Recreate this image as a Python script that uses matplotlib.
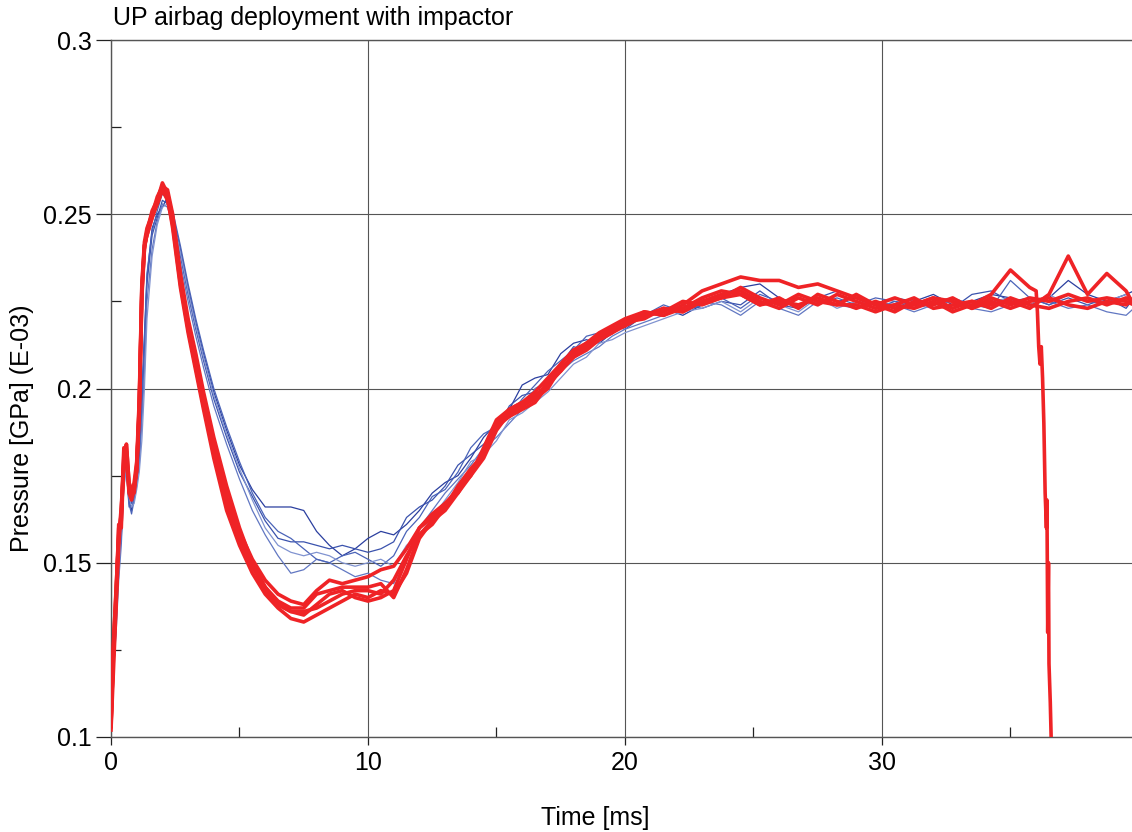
import numpy as np
import matplotlib

matplotlib.use("Agg")
import matplotlib.pyplot as plt
from matplotlib.ticker import FixedLocator

plt.rcParams["font.family"] = ["Liberation Sans", "DejaVu Sans"]

# shared time grid [ms]
T_EARLY = [0.0, 0.1, 0.2, 0.3, 0.4, 0.5, 0.6, 0.7, 0.8, 0.9, 1.0, 1.1, 1.2, 1.3,
           1.4, 1.6, 1.8, 2.0, 2.2, 2.4, 2.7, 3.0, 3.3, 3.6, 4.0, 4.5]
T_MID = [5.0, 5.5, 6.0, 6.5, 7.0, 7.5, 8.0, 8.5, 9.0, 9.5, 10.0, 10.5, 11.0, 11.5,
         12.0, 12.5, 13.0, 13.5, 14.0, 14.5, 15.0, 15.5, 16.0, 16.5, 17.0, 17.5,
         18.0, 18.5, 19.0, 19.5, 20.0]
T_LATE = [20.75, 21.5, 22.25, 23.0, 23.75, 24.5, 25.25, 26.0, 26.75, 27.5, 28.25,
          29.0, 29.75, 30.5, 31.25, 32.0, 32.75, 33.5, 34.25, 35.0, 35.75, 36.5,
          37.25, 38.0, 38.75, 39.5, 39.8]
TIME = T_EARLY + T_MID + T_LATE

# pressure [GPa] (E-03), reference runs (thin blue)
BLUE_1 = ([0.104, 0.118, 0.133, 0.150, 0.158, 0.176, 0.178, 0.168, 0.165, 0.169, 0.173, 0.182, 0.198,
           0.215, 0.232, 0.246, 0.250, 0.252, 0.255, 0.250, 0.240, 0.229, 0.219, 0.210, 0.199, 0.188]
          + [0.178, 0.171, 0.166, 0.166, 0.166, 0.165, 0.159, 0.155, 0.152, 0.154, 0.157, 0.159, 0.158,
             0.161, 0.165, 0.170, 0.173, 0.175, 0.180, 0.186, 0.190, 0.194, 0.201, 0.203, 0.204, 0.210,
             0.213, 0.214, 0.213, 0.216, 0.219]
          + [0.220, 0.223, 0.221, 0.224, 0.227, 0.229, 0.230, 0.226, 0.224, 0.227, 0.225, 0.226, 0.224,
             0.226, 0.225, 0.227, 0.224, 0.225, 0.227, 0.226, 0.224, 0.226, 0.231, 0.227, 0.225, 0.227, 0.228])
BLUE_2 = ([0.103, 0.122, 0.136, 0.148, 0.161, 0.175, 0.180, 0.170, 0.167, 0.170, 0.175, 0.180, 0.195,
           0.212, 0.230, 0.244, 0.249, 0.254, 0.253, 0.248, 0.238, 0.227, 0.217, 0.208, 0.197, 0.186]
          + [0.176, 0.169, 0.162, 0.157, 0.156, 0.156, 0.155, 0.154, 0.155, 0.154, 0.153, 0.154, 0.156,
             0.163, 0.166, 0.168, 0.172, 0.178, 0.181, 0.184, 0.188, 0.195, 0.198, 0.199, 0.203, 0.207,
             0.212, 0.211, 0.214, 0.218, 0.217]
          + [0.221, 0.222, 0.224, 0.223, 0.225, 0.224, 0.228, 0.224, 0.223, 0.226, 0.228, 0.226, 0.223,
             0.225, 0.224, 0.226, 0.223, 0.227, 0.228, 0.225, 0.226, 0.224, 0.226, 0.224, 0.226, 0.223, 0.226])
BLUE_3 = ([0.105, 0.120, 0.130, 0.145, 0.155, 0.172, 0.177, 0.166, 0.166, 0.168, 0.172, 0.178, 0.190,
           0.205, 0.225, 0.240, 0.248, 0.253, 0.252, 0.247, 0.236, 0.225, 0.215, 0.206, 0.195, 0.184]
          + [0.174, 0.165, 0.158, 0.152, 0.147, 0.148, 0.151, 0.150, 0.148, 0.146, 0.147, 0.145, 0.144,
             0.152, 0.160, 0.165, 0.170, 0.174, 0.178, 0.183, 0.186, 0.190, 0.194, 0.200, 0.202, 0.205,
             0.208, 0.210, 0.212, 0.215, 0.217]
          + [0.219, 0.221, 0.223, 0.225, 0.224, 0.221, 0.225, 0.223, 0.221, 0.225, 0.224, 0.223, 0.225,
             0.224, 0.222, 0.224, 0.225, 0.223, 0.222, 0.224, 0.226, 0.225, 0.223, 0.224, 0.222, 0.221, 0.223])
BLUE_4 = ([0.104, 0.121, 0.135, 0.152, 0.157, 0.174, 0.176, 0.167, 0.164, 0.168, 0.174, 0.181, 0.197,
           0.214, 0.233, 0.245, 0.251, 0.256, 0.254, 0.251, 0.241, 0.230, 0.220, 0.211, 0.200, 0.189]
          + [0.179, 0.170, 0.163, 0.159, 0.157, 0.154, 0.151, 0.150, 0.152, 0.153, 0.151, 0.149, 0.152,
             0.159, 0.163, 0.169, 0.171, 0.176, 0.183, 0.187, 0.189, 0.192, 0.197, 0.201, 0.205, 0.208,
             0.211, 0.215, 0.216, 0.217, 0.220]
          + [0.221, 0.224, 0.222, 0.224, 0.226, 0.223, 0.227, 0.225, 0.226, 0.224, 0.226, 0.224, 0.226,
             0.225, 0.223, 0.225, 0.226, 0.224, 0.223, 0.231, 0.226, 0.224, 0.227, 0.225, 0.224, 0.226, 0.225])
BLUE_5 = ([0.102, 0.119, 0.132, 0.147, 0.160, 0.171, 0.179, 0.169, 0.166, 0.167, 0.171, 0.176, 0.185,
           0.200, 0.220, 0.238, 0.247, 0.252, 0.253, 0.249, 0.239, 0.228, 0.218, 0.209, 0.198, 0.187]
          + [0.177, 0.168, 0.160, 0.155, 0.153, 0.152, 0.153, 0.152, 0.150, 0.149, 0.150, 0.151, 0.149,
             0.155, 0.158, 0.163, 0.168, 0.173, 0.179, 0.181, 0.185, 0.191, 0.193, 0.196, 0.199, 0.203,
             0.207, 0.209, 0.213, 0.214, 0.216]
          + [0.218, 0.220, 0.222, 0.223, 0.225, 0.222, 0.226, 0.224, 0.222, 0.226, 0.223, 0.225, 0.224,
             0.226, 0.224, 0.223, 0.226, 0.224, 0.225, 0.226, 0.224, 0.227, 0.224, 0.223, 0.225, 0.227, 0.225])

# impactor runs (thick red)
RED_1 = ([0.104, 0.128, 0.142, 0.160, 0.162, 0.181, 0.184, 0.173, 0.170, 0.172, 0.177, 0.196, 0.229,
          0.241, 0.244, 0.249, 0.254, 0.259, 0.256, 0.248, 0.231, 0.219, 0.209, 0.197, 0.184, 0.169]
         + [0.159, 0.151, 0.145, 0.141, 0.139, 0.138, 0.142, 0.145, 0.144, 0.145, 0.146, 0.148, 0.149,
            0.154, 0.160, 0.163, 0.167, 0.171, 0.175, 0.183, 0.191, 0.194, 0.196, 0.199, 0.203, 0.207,
            0.211, 0.213, 0.216, 0.218, 0.220]
         + [0.222, 0.221, 0.224, 0.228, 0.230, 0.232, 0.231, 0.231, 0.229, 0.230, 0.228, 0.226, 0.224,
            0.226, 0.224, 0.226, 0.225, 0.223, 0.226, 0.224, 0.226, 0.225, 0.227, 0.225, 0.226, 0.225, 0.224])
RED_2 = ([0.102, 0.120, 0.138, 0.155, 0.165, 0.178, 0.182, 0.170, 0.168, 0.171, 0.178, 0.193, 0.226,
          0.240, 0.245, 0.250, 0.253, 0.257, 0.255, 0.246, 0.229, 0.216, 0.205, 0.194, 0.180, 0.165]
         + [0.155, 0.147, 0.141, 0.137, 0.134, 0.133, 0.135, 0.137, 0.139, 0.141, 0.140, 0.142, 0.141,
            0.147, 0.157, 0.162, 0.165, 0.170, 0.176, 0.182, 0.189, 0.192, 0.195, 0.197, 0.200, 0.206,
            0.209, 0.211, 0.214, 0.216, 0.219]
         + [0.220, 0.223, 0.222, 0.225, 0.227, 0.228, 0.225, 0.223, 0.226, 0.224, 0.227, 0.225, 0.223,
            0.224, 0.226, 0.223, 0.224, 0.225, 0.223, 0.226, 0.224, 0.223, 0.225, 0.226, 0.224, 0.226, 0.225])
RED_3 = ([0.103, 0.126, 0.141, 0.158, 0.164, 0.183, 0.180, 0.171, 0.169, 0.173, 0.179, 0.197, 0.230,
          0.242, 0.246, 0.250, 0.255, 0.258, 0.257, 0.250, 0.233, 0.220, 0.210, 0.199, 0.186, 0.172]
         + [0.160, 0.150, 0.143, 0.139, 0.137, 0.137, 0.141, 0.142, 0.143, 0.143, 0.143, 0.144, 0.140,
            0.148, 0.158, 0.161, 0.166, 0.172, 0.177, 0.181, 0.190, 0.194, 0.196, 0.197, 0.202, 0.205,
            0.210, 0.213, 0.215, 0.217, 0.218]
         + [0.221, 0.222, 0.225, 0.224, 0.226, 0.229, 0.226, 0.224, 0.227, 0.225, 0.224, 0.227, 0.224,
            0.222, 0.225, 0.224, 0.226, 0.223, 0.225, 0.223, 0.225, 0.226, 0.224, 0.223, 0.225, 0.224, 0.226])
RED_4 = ([0.105, 0.124, 0.139, 0.161, 0.160, 0.180, 0.181, 0.172, 0.170, 0.172, 0.176, 0.194, 0.227,
          0.241, 0.244, 0.249, 0.253, 0.257, 0.254, 0.247, 0.230, 0.217, 0.206, 0.195, 0.182, 0.167]
         + [0.157, 0.149, 0.143, 0.138, 0.136, 0.135, 0.138, 0.141, 0.142, 0.140, 0.139, 0.140, 0.142,
            0.151, 0.160, 0.164, 0.167, 0.170, 0.175, 0.180, 0.188, 0.193, 0.195, 0.198, 0.201, 0.207,
            0.211, 0.212, 0.215, 0.217, 0.219]
         + [0.222, 0.221, 0.223, 0.226, 0.228, 0.227, 0.224, 0.226, 0.223, 0.227, 0.225, 0.223, 0.225,
            0.223, 0.224, 0.226, 0.223, 0.225, 0.224, 0.225, 0.223, 0.227, 0.238, 0.227, 0.233, 0.228, 0.224])
# run 5 loses pressure at ~36 ms
RED_5 = ([0.103, 0.127, 0.143, 0.157, 0.166, 0.179, 0.184, 0.173, 0.171, 0.170, 0.177, 0.195, 0.228,
          0.240, 0.245, 0.251, 0.254, 0.258, 0.256, 0.249, 0.232, 0.218, 0.207, 0.196, 0.183, 0.168]
         + [0.158, 0.149, 0.142, 0.138, 0.136, 0.136, 0.137, 0.139, 0.141, 0.142, 0.142, 0.141, 0.145,
            0.152, 0.158, 0.162, 0.166, 0.171, 0.176, 0.182, 0.190, 0.192, 0.194, 0.196, 0.201, 0.205,
            0.209, 0.212, 0.214, 0.216, 0.218]
         + [0.221, 0.223, 0.222, 0.225, 0.226, 0.227, 0.224, 0.225, 0.224, 0.226, 0.224, 0.224, 0.222,
            0.224, 0.223, 0.225, 0.222, 0.224, 0.227, 0.234, 0.229])
RED_5_DROP_T = [36.0, 36.05, 36.1, 36.15, 36.2, 36.25, 36.3, 36.35, 36.4, 36.42, 36.45, 36.48,
                36.5, 36.55, 36.6]
RED_5_DROP_P = [0.228, 0.222, 0.212, 0.207, 0.212, 0.203, 0.190, 0.170, 0.160, 0.168, 0.130, 0.150,
                0.121, 0.110, 0.095]

BLUE_RUNS = [BLUE_1, BLUE_2, BLUE_3, BLUE_4, BLUE_5]
BLUE_COLORS = ["#2b3f9f", "#3a52ad", "#6177c2", "#4a63b8", "#8093d0"]
RED_COLOR = "#ef2326"
GRID_COLOR = "#555555"

fig = plt.figure(figsize=(11.32, 8.32), dpi=100)
ax = fig.add_axes([111 / 1132, 95 / 832, 1 - 111 / 1132, 697 / 832])

t = np.array(TIME)
for values, color in zip(BLUE_RUNS, BLUE_COLORS):
    ax.plot(t, values, color=color, lw=0.9, zorder=3)

for values in [RED_1, RED_2, RED_3, RED_4]:
    ax.plot(t, values, color=RED_COLOR, lw=2.6, zorder=4)
t5 = np.array(T_EARLY + T_MID + T_LATE[:21] + RED_5_DROP_T)
ax.plot(t5, RED_5 + RED_5_DROP_P, color=RED_COLOR, lw=2.6, zorder=4)

ax.set_xlim(0, 39.73)
ax.set_ylim(0.1, 0.3)
ax.xaxis.set_major_locator(FixedLocator([0, 10, 20, 30]))
ax.xaxis.set_minor_locator(FixedLocator([5, 15, 25, 35]))
ax.yaxis.set_major_locator(FixedLocator([0.1, 0.15, 0.2, 0.25, 0.3]))
ax.yaxis.set_minor_locator(FixedLocator([0.125, 0.175, 0.225, 0.275]))
ax.set_yticklabels(["0.1", "0.15", "0.2", "0.25", "0.3"])

ax.tick_params(axis="x", which="major", direction="out", length=6, width=0.9,
               color="#222222", labelsize=18, pad=4)
ax.tick_params(axis="y", which="major", direction="out", length=11, width=0.9,
               color="#222222", labelsize=18, pad=3)
ax.tick_params(which="minor", direction="in", length=7.5, width=0.9, color="#222222")

ax.grid(True, which="major", color=GRID_COLOR, lw=0.8)
ax.set_axisbelow(True)
for side in ["left", "bottom", "top"]:
    ax.spines[side].set_color(GRID_COLOR)
    ax.spines[side].set_linewidth(1.0)
ax.spines["right"].set_visible(False)

fig.text(113 / 1132, 1 - 18 / 832, "UP airbag deployment with impactor",
         ha="left", va="center", fontsize=18)
fig.text(595 / 1132, 1 - 818 / 832, "Time [ms]", ha="center", va="center", fontsize=18)
fig.text(22 / 1132, 1 - 428 / 832, "Pressure [GPa] (E-03)", ha="center", va="center",
         rotation=90, fontsize=18)

fig.savefig("out.png", dpi=100)
